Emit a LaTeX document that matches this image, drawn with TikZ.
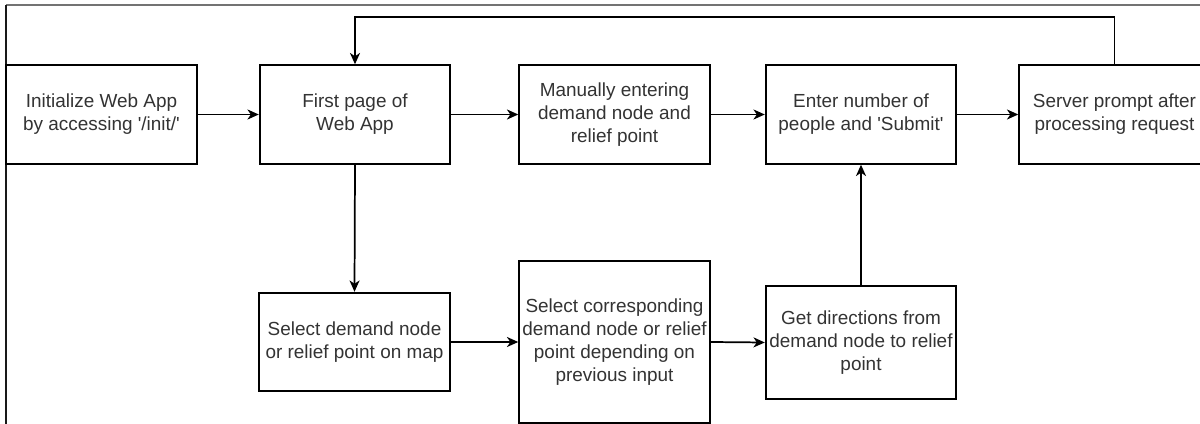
\documentclass[tikz,border=0pt]{standalone}
\usepackage{fontspec}
\newfontfamily\appfont{Liberation Sans}
\usepackage{tikz}
\usetikzlibrary{positioning}
\usetikzlibrary{shapes,backgrounds,arrows,arrows.meta}
\tikzstyle{line} = [draw, line width=1.3pt, -{Stealth[length=8.5pt, width=7.5pt, inset=2.5pt]}]
\tikzstyle{stepbox} = [draw, line width=1.3pt, rectangle, align=center, inner sep=0pt,
	minimum width=143pt, minimum height=74pt, text=black!80,
	font=\appfont\fontsize{14.2}{17.4}\selectfont]

\begin{document}
\begin{tikzpicture}[x=0.75pt, y=-0.75pt]
	\useasboundingbox (0, 0) rectangle (1200, 424);
	\clip (0, 0) rectangle (1200, 424);
	\fill[white] (0, 0) rectangle (1200, 424);
	% frame of the page
	\draw[black!55, line width=1.1pt] (6, 5) -- (1200, 5);
	\draw[black!90, line width=1.8pt] (6, 5) -- (6, 424);

	% top row
	\node[stepbox] (init) at (101.5, 114.5) {Initialize Web App\\by accessing '/init/'};
	\node[stepbox] (first) at (355, 114.5) {First page of\\Web App};
	\node[stepbox] (manual) at (614.5, 114.5) {Manually entering\\demand node and\\relief point};
	\node[stepbox] (enter) at (861, 114.5) {Enter number of\\people and 'Submit'};
	\node[stepbox] (server) at (1114.5, 114.5) {Server prompt after\\processing request};

	% bottom row
	\node[stepbox] (select) at (354.5, 342) {Select demand node\\or relief point on map};
	\node[stepbox, minimum height=121.5pt] (match) at (614.5, 342) {Select corresponding\\demand node or relief\\point depending on\\previous input};
	\node[stepbox, minimum height=85pt] (route) at (861, 342.5) {Get directions from\\demand node to relief\\point};

	\coordinate (loop) at (1114.5, 17);

	\path[line] (init) -- (first);
	\path[line] (first) -- (manual);
	\path[line] (manual) -- (enter);
	\path[line] (enter) -- (server);
	\path[line] (server.north) -- (loop) -| (first.north);
	\path[line] (first.south) -- (select.north);
	\path[line] (select.east) -- (select.east -| match.west);
	\path[line] (select.east -| match.east) -- (route.west);
	\path[line] (route.north) -- (enter.south);
\end{tikzpicture}
\end{document}
